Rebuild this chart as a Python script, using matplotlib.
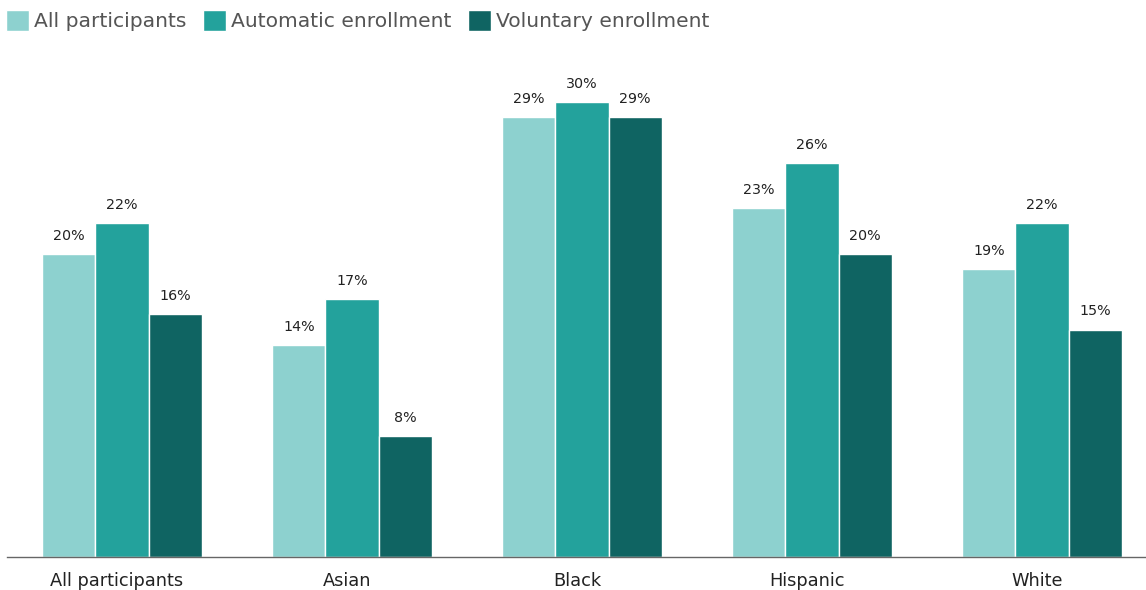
import matplotlib.pyplot as plt
import matplotlib.transforms as mtransforms
import numpy as np

plt.rcParams['font.family'] = ['DejaVu Sans']

groups = ["All participants", "Asian", "Black", "Hispanic", "White"]
series_names = ["All participants", "Automatic enrollment", "Voluntary enrollment"]
all_participants = [20, 14, 29, 23, 19]
automatic = [22, 17, 30, 26, 22]
voluntary = [16, 8, 29, 20, 15]

colors = ["#8dd1cf", "#23a29c", "#0f6462"]

fig = plt.figure(figsize=(11.46, 5.90), dpi=100)
ax = fig.add_axes([7 / 1146, 33 / 590, 1 - 7 / 1146, (557 - 40) / 590])

x = np.arange(len(groups))
width = 0.231
ax.set_xlim(-0.5, 4.452)
ax.set_ylim(0, (557 - 40) / (455 / 30))

for i, (vals, name, col) in enumerate(zip([all_participants, automatic, voluntary], series_names, colors)):
    pos = x + (i - 1) * width
    bars = ax.bar(pos, vals, width=width, color=col, edgecolor="white", linewidth=1, label=name)
    for b, v in zip(bars, vals):
        ax.annotate(f"{v}%", (b.get_x() + b.get_width() / 2, v), xytext=(0, 8),
                    textcoords="offset points", ha="center", va="bottom",
                    fontsize=10.3, color="#222222")

ax.set_xticks(x)
ax.set_xticklabels(groups, fontsize=12.8, color="#222222")
ax.tick_params(axis="x", length=0, pad=11)
# nudge category labels slightly left
shift = mtransforms.ScaledTranslation(-5 / 100, 0, fig.dpi_scale_trans)
for lbl in ax.get_xticklabels():
    lbl.set_transform(lbl.get_transform() + shift)
ax.set_yticks([])
for s in ["top", "right", "left"]:
    ax.spines[s].set_visible(False)
ax.spines["bottom"].set_color("#666666")
ax.spines["bottom"].set_linewidth(1)

leg = fig.legend(loc="upper left", bbox_to_anchor=(-0.005, 1.004), ncol=3, frameon=False,
                 fontsize=14.6, handlelength=1.1, handleheight=1.2, handletextpad=0.25,
                 columnspacing=0.85, borderaxespad=0.2)
for t in leg.get_texts():
    t.set_color("#555555")

fig.savefig("out.png", dpi=100)
